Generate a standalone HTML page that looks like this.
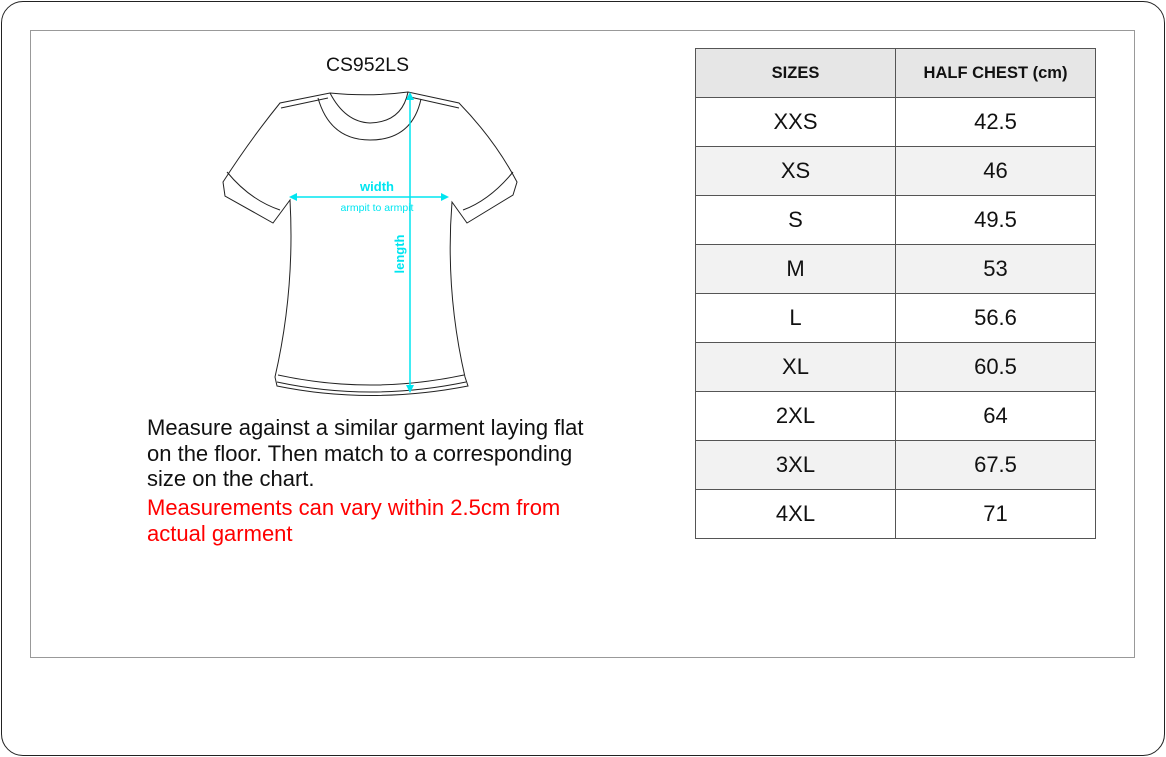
<!DOCTYPE html>
<html><head><style>
body{margin:0;width:1166px;height:757px;background:#fff;font-family:"Liberation Sans",Arial,sans-serif;position:relative;overflow:hidden}
.outer{position:absolute;left:1px;top:1px;width:1162px;height:753px;border:1.5px solid #222;border-radius:22px}
.inner{position:absolute;left:30px;top:30px;width:1103px;height:626px;border:1.5px solid #999}
table{position:absolute;left:695px;top:48px;border-collapse:collapse}
td{border:1px solid #555;width:199px;height:48px;text-align:center;font-size:22px;color:#111;padding:0}
tr.h td{font-weight:bold;font-size:16.5px;background:#e6e6e6}
tr.g td{background:#f2f2f2}
.t{position:absolute;left:147px;font-size:22px;line-height:25.5px;color:#111;white-space:nowrap}
</style></head><body>
<div class="outer"></div><div class="inner"></div>
<div style="position:absolute;left:326px;top:54px;font-size:19.4px;color:#111">CS952LS</div>
<svg style="position:absolute;left:0;top:0" width="1166" height="757">
<g fill="none" stroke="#222" stroke-width="1">
<path d="M330,93 Q370,97 408,92 L459,103 Q495,140 517,182 L513,195 L467,223 L452,202 Q445,290 465,377 L468,386 Q370,405 277,386 L275,377 Q295,290 290,200 L273,223 L225,196 L223,182 Q250,140 280,103 Z"/>
<path d="M281,108 L328,98 M410,97 L459,108"/>
<path d="M330,93 Q345,122 370,123 Q402,122 408,92"/>
<path d="M318,98 Q330,140 370,140 Q412,140 421,99"/>
<path d="M227,172 Q250,200 280,210 M513,172 Q490,200 463,210"/>
<path d="M278,375 Q370,395 464,375 M277,382 Q370,402 466,382"/>
</g>
<g stroke="#00e5f0" stroke-width="1.5" fill="#00e5f0">
<line x1="410" y1="96" x2="410" y2="389"/>
<line x1="293" y1="197" x2="445" y2="197"/>
<path d="M410,92 l-4,8 l8,0 Z M410,393 l-4,-8 l8,0 Z M289,197 l8,-4 l0,8 Z M449,197 l-8,-4 l0,8 Z" stroke="none"/>
</g>
<text x="377" y="191" fill="#00e5f0" font-size="13" font-weight="bold" text-anchor="middle" font-family="Liberation Sans">width</text>
<text x="377" y="211" fill="#00e5f0" font-size="10.5" text-anchor="middle" font-family="Liberation Sans">armpit to armpit</text>
<text transform="translate(404,254) rotate(-90)" fill="#00e5f0" font-size="13" font-weight="bold" text-anchor="middle" font-family="Liberation Sans">length</text>
</svg>
<div class="t" style="top:415px">Measure against a similar garment laying flat<br>on the floor. Then match to a corresponding<br>size on the chart.</div>
<div class="t" style="top:495px;color:#f00">Measurements can vary within 2.5cm from<br>actual garment</div>
<table>
<tr class="h"><td>SIZES</td><td>HALF CHEST (cm)</td></tr>
<tr><td>XXS</td><td>42.5</td></tr>
<tr class="g"><td>XS</td><td>46</td></tr>
<tr><td>S</td><td>49.5</td></tr>
<tr class="g"><td>M</td><td>53</td></tr>
<tr><td>L</td><td>56.6</td></tr>
<tr class="g"><td>XL</td><td>60.5</td></tr>
<tr><td>2XL</td><td>64</td></tr>
<tr class="g"><td>3XL</td><td>67.5</td></tr>
<tr><td>4XL</td><td>71</td></tr>
</table>
</body></html>
